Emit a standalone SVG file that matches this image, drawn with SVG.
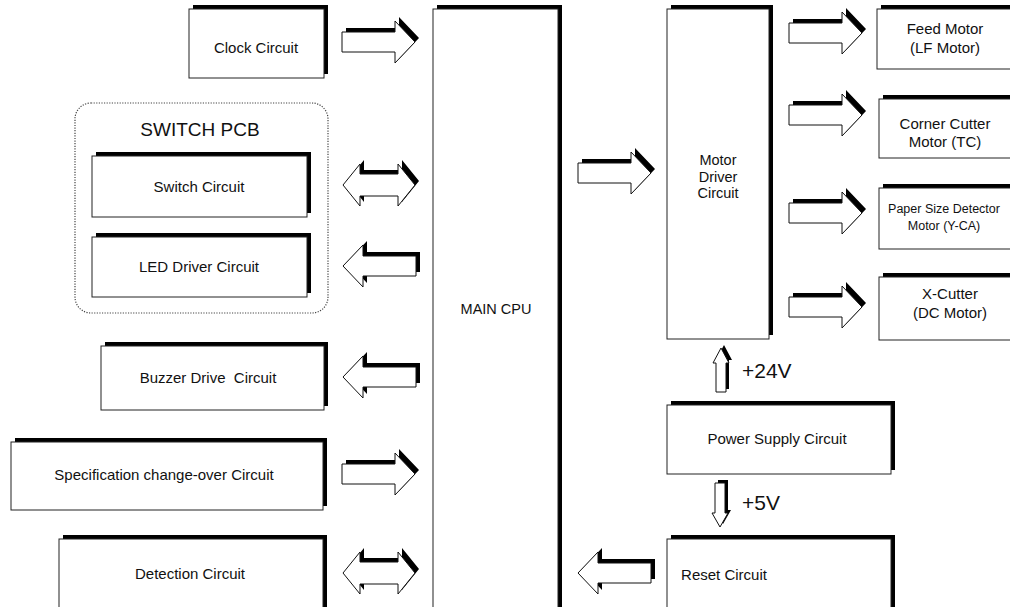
<svg xmlns="http://www.w3.org/2000/svg" xmlns:xlink="http://www.w3.org/1999/xlink" width="1010" height="607" viewBox="0 0 1010 607">
<style>
text{font-family:"Liberation Sans",Arial,sans-serif;fill:#111;text-anchor:middle}
.t{font-size:15px}
.s{font-size:12.5px}
.big{font-size:21px;text-anchor:start}
.sh{fill:#000}
.bx{fill:#fff;stroke:#222;stroke-width:1}
.ar{fill:#fff;stroke:#111;stroke-width:1}
.pcb{fill:none;stroke:#444;stroke-width:1.2;stroke-dasharray:1.2 1.4}
</style>
<defs>
<path id="ra" d="M-73,-10 H-20 V-21 L0,0 L-20,21 V10 H-73 Z"/>
<path id="la" d="M73,-10 H20 V-21 L0,0 L20,21 V10 H73 Z"/>
<path id="da" d="M0,0 L17,-21 V-11 H55 V-21 L72,0 L55,21 V11 H17 V21 Z"/>
<path id="ua" d="M-5,44 V15 H-8 L0,0 L8,15 H5 V44 Z"/>
<path id="dna" d="M-5,0 V30 H-8 L0,44 L8,30 H5 V0 Z"/>
</defs>

<g id="switch-pcb">
<rect class="pcb" x="75" y="103" width="253" height="210" rx="16"/>
<text x="200" y="136" style="font-size:19px">SWITCH PCB</text>
</g>

<g id="clock">
<rect class="sh" x="193" y="5" width="135" height="69"/>
<rect class="bx" x="189" y="9" width="135" height="69"/>
<text class="t" x="256" y="53">Clock Circuit</text>
</g>

<g id="switch">
<rect class="sh" x="96" y="152" width="215" height="61"/>
<rect class="bx" x="92" y="156" width="215" height="61"/>
<text class="t" x="199" y="192">Switch Circuit</text>
</g>

<g id="led">
<rect class="sh" x="96" y="233" width="215" height="60"/>
<rect class="bx" x="92" y="237" width="215" height="60"/>
<text class="t" x="199" y="272">LED Driver Circuit</text>
</g>

<g id="buzzer">
<rect class="sh" x="105" y="342" width="223" height="64"/>
<rect class="bx" x="101" y="346" width="223" height="64"/>
<text class="t" x="208" y="383" xml:space="preserve">Buzzer Drive  Circuit</text>
</g>

<g id="spec">
<rect class="sh" x="15" y="438" width="312" height="68"/>
<rect class="bx" x="11" y="442" width="312" height="68"/>
<text class="t" x="164" y="480">Specification change-over Circuit</text>
</g>

<g id="detection">
<rect class="sh" x="63" y="535" width="264" height="90"/>
<rect class="bx" x="59" y="539" width="264" height="90"/>
<text class="t" x="190" y="579">Detection Circuit</text>
</g>

<g id="main-cpu">
<rect class="sh" x="437" y="5" width="125" height="620"/>
<rect class="bx" x="433" y="9" width="125" height="620"/>
<text x="496" y="314" style="font-size:14.5px">MAIN CPU</text>
</g>

<g id="motor-driver">
<rect class="sh" x="671" y="5" width="102" height="330"/>
<rect class="bx" x="667" y="9" width="102" height="330"/>
<text x="718" y="165" style="font-size:14.5px">Motor</text>
<text x="718" y="182" style="font-size:14.5px">Driver</text>
<text x="718" y="198" style="font-size:14.5px">Circuit</text>
</g>

<g id="feed-motor">
<rect class="sh" x="881" y="5" width="140" height="60"/>
<rect class="bx" x="877" y="9" width="140" height="60"/>
<text class="t" x="945" y="34">Feed Motor</text>
<text class="t" x="945" y="53">(LF Motor)</text>
</g>

<g id="corner-cutter">
<rect class="sh" x="883" y="95" width="140" height="59"/>
<rect class="bx" x="879" y="99" width="140" height="59"/>
<text class="t" x="945" y="129">Corner Cutter</text>
<text class="t" x="945" y="147">Motor (TC)</text>
</g>

<g id="paper-size">
<rect class="sh" x="883" y="184" width="140" height="61"/>
<rect class="bx" x="879" y="188" width="140" height="61"/>
<text class="s" x="944" y="213">Paper Size Detector</text>
<text class="s" x="944" y="230">Motor (Y-CA)</text>
</g>

<g id="x-cutter">
<rect class="sh" x="883" y="273" width="140" height="63"/>
<rect class="bx" x="879" y="277" width="140" height="63"/>
<text class="t" x="950" y="299">X-Cutter</text>
<text class="t" x="950" y="318">(DC Motor)</text>
</g>

<g id="power-supply">
<rect class="sh" x="671" y="401" width="224" height="69"/>
<rect class="bx" x="667" y="405" width="224" height="69"/>
<text class="t" x="777" y="444">Power Supply Circuit</text>
</g>

<g id="reset">
<rect class="sh" x="671" y="535" width="224" height="90"/>
<rect class="bx" x="667" y="539" width="224" height="90"/>
<text class="t" x="724" y="580">Reset Circuit</text>
</g>

<g id="connectors">
<g transform="translate(415,42)"><use href="#ra" class="sh" x="4" y="-4"/><use href="#ra" class="ar"/></g>
<g transform="translate(343,185)"><use href="#da" class="sh" x="4" y="-4"/><use href="#da" class="ar"/></g>
<g transform="translate(343,266)"><use href="#la" class="sh" x="4" y="-4"/><use href="#la" class="ar"/></g>
<g transform="translate(343,377)"><use href="#la" class="sh" x="4" y="-4"/><use href="#la" class="ar"/></g>
<g transform="translate(415,474)"><use href="#ra" class="sh" x="4" y="-4"/><use href="#ra" class="ar"/></g>
<g transform="translate(343,573)"><use href="#da" class="sh" x="4" y="-4"/><use href="#da" class="ar"/></g>
<g transform="translate(651,173)"><use href="#ra" class="sh" x="4" y="-4"/><use href="#ra" class="ar"/></g>
<g transform="translate(578,573)"><use href="#la" class="sh" x="4" y="-4"/><use href="#la" class="ar"/></g>
<g transform="translate(862,33)"><use href="#ra" class="sh" x="4" y="-4"/><use href="#ra" class="ar"/></g>
<g transform="translate(862,115)"><use href="#ra" class="sh" x="4" y="-4"/><use href="#ra" class="ar"/></g>
<g transform="translate(862,213)"><use href="#ra" class="sh" x="4" y="-4"/><use href="#ra" class="ar"/></g>
<g transform="translate(862,307)"><use href="#ra" class="sh" x="4" y="-4"/><use href="#ra" class="ar"/></g>
<g transform="translate(721,348)"><use href="#ua" class="sh" x="3" y="-3"/><use href="#ua" class="ar"/></g>
<g transform="translate(720,483)"><use href="#dna" class="sh" x="3" y="-3"/><use href="#dna" class="ar"/></g>
</g>
<text class="big" x="742" y="378">+24V</text>
<text class="big" x="742" y="510">+5V</text>
</svg>
